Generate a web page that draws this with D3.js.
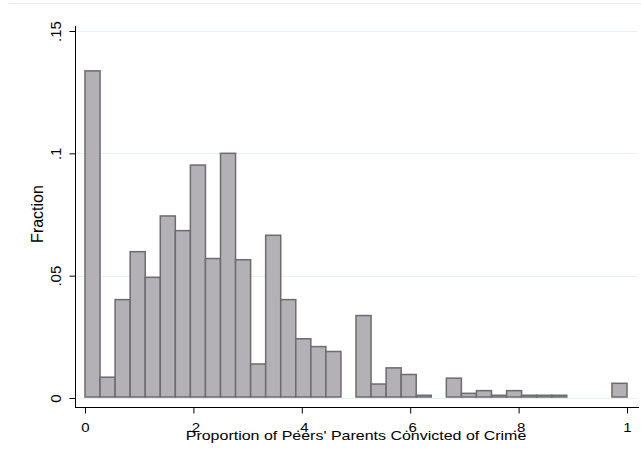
<!DOCTYPE html>
<html>
<head>
<meta charset="utf-8">
<script src="https://cdn.jsdelivr.net/npm/d3@7"></script>
<style>
  body { margin: 0; background: #fff; }
  text { font-family: "Liberation Sans", Arial, sans-serif; fill: #000; }
</style>
</head>
<body>
<script>
// fraction of observations in each of 36 equal-width bins over [0, 1]
var binCount = 36;
var fractions = [.1333, .0081, .0398, .0594, .0489, .074, .068, .0948, .0566, .0996,
                 .0561, .0135, .0661, .0398, .0238, .0206, .0186, 0, .0333, .0053,
                 .0119, .0092, .0007, 0, .0077, .0015, .0026, .0007, .0026, .0007,
                 .0007, .0007, 0, 0, 0, .0056];
var xTicks = [0, .2, .4, .6, .8, 1];
var xTickLabels = ["0", ".2", ".4", ".6", ".8", "1"];
var yTicks = [0, .05, .1, .15];
var yTickLabels = ["0", ".05", ".1", ".15"];

var width = 641, height = 469;

var svg = d3.select("body").append("svg")
    .attr("width", width)
    .attr("height", height);

var x = d3.scaleLinear().domain([0, 1]).range([85, 627]);
var y = d3.scaleLinear().domain([0, .15]).range([398, 31]);

// faint frame line along the top
svg.append("line")
    .attr("x1", 9).attr("x2", 641)
    .attr("y1", 3.5).attr("y2", 3.5)
    .attr("stroke", "#e4e8ef");

// grid lines
svg.append("g").selectAll("line")
    .data(yTicks)
  .enter().append("line")
    .attr("x1", 76).attr("x2", 637)
    .attr("y1", function(d) { return Math.round(y(d)) + 0.5; })
    .attr("y2", function(d) { return Math.round(y(d)) + 0.5; })
    .attr("stroke", "#eaeff5");

var bins = fractions.map(function(f, i) {
  return {x0: i / binCount, x1: (i + 1) / binCount, value: f};
});

svg.append("g").selectAll("rect")
    .data(bins.filter(function(d) { return d.value > 0; }))
  .enter().append("rect")
    .attr("x", function(d) { return x(d.x0); })
    .attr("width", function(d) { return x(d.x1) - x(d.x0); })
    .attr("y", function(d) { return y(d.value) - 1; })
    .attr("height", function(d) { return y(0) - y(d.value); })
    .attr("fill", "#b3b1b5")
    .attr("stroke", "#6c6b6e")
    .attr("stroke-width", 1.5);

// y axis
var yAxis = svg.append("g")
    .attr("transform", "translate(75.5,0)")
    .call(d3.axisLeft(y).tickValues(yTicks).tickSize(6).tickSizeOuter(0)
      .tickFormat(function(d, i) { return yTickLabels[i]; }));
yAxis.select(".domain").attr("d", "M0,26V407").attr("stroke", "#000");
yAxis.selectAll(".tick line").attr("stroke", "#000");
yAxis.selectAll(".tick text")
    .attr("x", null).attr("dy", null)
    .attr("transform", "translate(-14.5,0) rotate(-90)")
    .attr("text-anchor", "middle")
    .style("font-size", "15px")
    .style("font-family", "Liberation Sans, Arial, sans-serif");

// x axis (labels are a bit squat in the original, so squeeze them vertically)
var xAxis = svg.append("g")
    .attr("transform", "translate(0,407.5)")
    .call(d3.axisBottom(x).tickValues(xTicks).tickSize(6).tickSizeOuter(0)
      .tickFormat(function(d, i) { return xTickLabels[i]; }));
xAxis.select(".domain").attr("d", "M75,0H639").attr("stroke", "#000");
xAxis.selectAll(".tick line").attr("stroke", "#000");
xAxis.selectAll(".tick text")
    .attr("y", 0).attr("dy", null)
    .attr("transform", "translate(0,24) scale(1,0.8)")
    .style("font-size", "15px")
    .style("font-family", "Liberation Sans, Arial, sans-serif");

// axis titles
svg.append("text")
    .attr("transform", "translate(356,439.5) scale(1,0.85)")
    .attr("text-anchor", "middle")
    .style("font-size", "16px")
    .text("Proportion of Peers' Parents Convicted of Crime");

svg.append("text")
    .attr("transform", "translate(43,214) rotate(-90)")
    .attr("text-anchor", "middle")
    .style("font-size", "16px")
    .text("Fraction");
</script>
</body>
</html>
